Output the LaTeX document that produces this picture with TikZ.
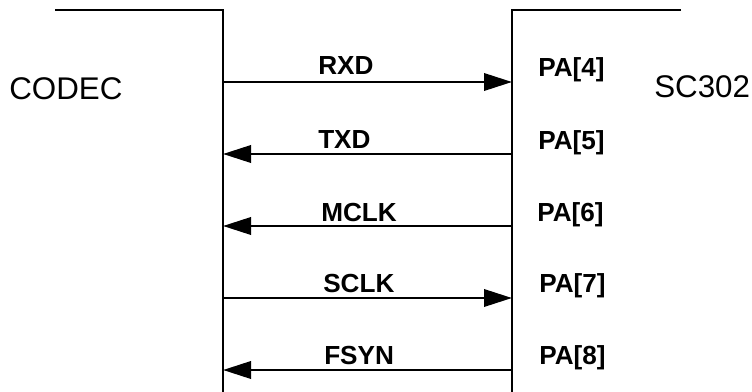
\documentclass[tikz,border=0pt]{standalone}
\usepackage{fontspec}
\setmainfont{Liberation Sans}
\usetikzlibrary{arrows.meta}
\begin{document}
\begin{tikzpicture}[x=0.75pt,y=-0.75pt,
  wire/.style={line width=1.9pt},
  sig/.style={line width=1.9pt,-{Triangle[length=21pt,width=13pt]}},
  sigtext/.style={font=\fontsize{19.6}{22}\selectfont\bfseries,anchor=base west,inner sep=0pt},
  chiptext/.style={font=\fontsize{23.5}{26}\selectfont,anchor=base west,inner sep=0pt}]
\useasboundingbox (0,0) rectangle (752,392);
% chip outlines
\coordinate (ltop) at (55,10);
\coordinate (lcorner) at (223,10);
\coordinate (lbot) at (223,392);
\coordinate (rtop) at (681,10);
\coordinate (rcorner) at (512,10);
\coordinate (rbot) at (512,392);
\draw[wire] (ltop) -- (lcorner) -- (lbot);
\draw[wire] (rtop) -- (rcorner) -- (rbot);
% pins
\coordinate (L1) at (223,82);  \coordinate (R1) at (512,82);
\coordinate (L2) at (223,154); \coordinate (R2) at (512,154);
\coordinate (L3) at (223,226); \coordinate (R3) at (512,226);
\coordinate (L4) at (223,298); \coordinate (R4) at (512,298);
\coordinate (L5) at (223,370); \coordinate (R5) at (512,370);
\draw[sig] (L1) -- (R1);
\draw[sig] (R2) -- (L2);
\draw[sig] (R3) -- (L3);
\draw[sig] (L4) -- (R4);
\draw[sig] (R5) -- (L5);
% labels
\node[chiptext] (codec) at (9,100) {CODEC};
\node[chiptext] (sc) at (654,98) {SC302};
\node[sigtext] (rxd) at (318,75) {RXD};
\node[sigtext] (txd) at (318,148) {TXD};
\node[sigtext] (mclk) at (321,221) {MCLK};
\node[sigtext] (sclk) at (323,292) {SCLK};
\node[sigtext] (fsyn) at (324,364) {FSYN};
\node[sigtext] (pa4) at (538,77) {PA[4]};
\node[sigtext] (pa5) at (538,149) {PA[5]};
\node[sigtext] (pa6) at (537,221) {PA[6]};
\node[sigtext] (pa7) at (539,292) {PA[7]};
\node[sigtext] (pa8) at (539,364) {PA[8]};
\end{tikzpicture}
\end{document}
